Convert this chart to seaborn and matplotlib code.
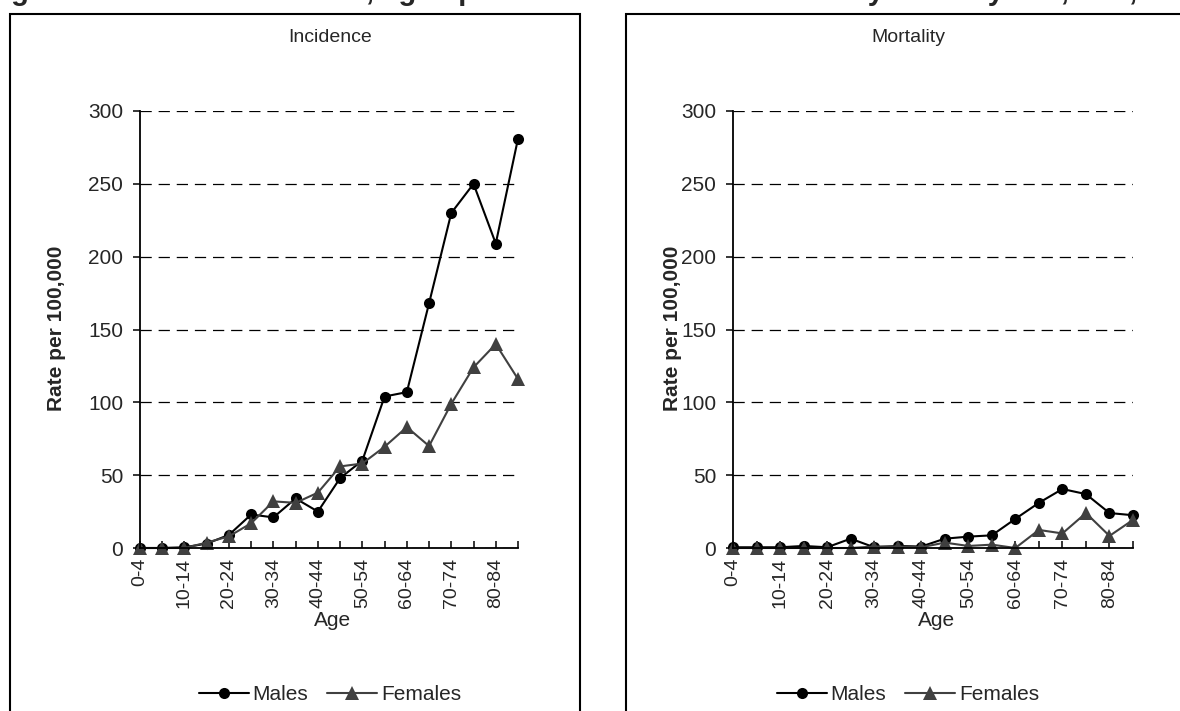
import numpy as np
import pandas as pd
import matplotlib
matplotlib.use("Agg")
import matplotlib.pyplot as plt
import seaborn as sns
from matplotlib.patches import Rectangle
from matplotlib.lines import Line2D

# Five-year age bands
age_groups = ["0-4", "5-9", "10-14", "15-19", "20-24", "25-29", "30-34", "35-39",
              "40-44", "45-49", "50-54", "55-59", "60-64", "65-69", "70-74",
              "75-79", "80-84", "85+"]

# Age-specific rates per 100,000
incidence_males = [0, 0, 0.5, 3, 9, 23, 21, 34, 25, 48, 60, 104, 107, 168, 230, 250, 209, 281]
incidence_females = [0, 0, 0, 3.7, 8, 17, 32, 31, 38, 56, 58, 69.5, 83, 70, 99, 124, 140, 116]
mortality_males = [0.5, 0.5, 0.5, 1.4, 0.5, 6.4, 0.5, 1.4, 1, 6.4, 7.8, 8.7, 20, 31, 40.5, 37, 24, 22.5]
mortality_females = [0, 0, 0, 0, 0, 0, 1, 1, 0.5, 3.7, 1.4, 2.3, 0, 12.4, 10, 24, 8.3, 19.3]

sexes = ["Males", "Females"]
y_ticks = [0, 50, 100, 150, 200, 250, 300]

sns.set_theme(style="white")
plt.rcParams["font.family"] = ["Liberation Sans", "DejaVu Sans"]

W, H = 1180, 711
fig = plt.figure(figsize=(W / 100, H / 100), dpi=100)
fig.patch.set_facecolor("white")


def fx(px):
    return px / W


def fy(py):
    return 1 - py / H


palette = {"Males": "#000000", "Females": "#404040"}
markers = {"Males": "o", "Females": "^"}
msize = {"Males": 8, "Females": 10}

panels = [
    dict(title="Incidence", males=incidence_males, females=incidence_females,
         box=(10, 580), ax=(140, 518), cx=330, ylab_x=56),
    dict(title="Mortality", males=mortality_males, females=mortality_females,
         box=(626, 1200), ax=(733, 1133), cx=908, ylab_x=672),
]

top_px, base_px = 111, 548
fs = 15

for p in panels:
    # chart-area frame
    bl, br = p["box"]
    fig.patches.append(Rectangle((fx(bl), fy(730)), fx(br - bl), (730 - 14) / H,
                                 transform=fig.transFigure, fill=False,
                                 edgecolor="black", linewidth=1.5))

    al, ar = p["ax"]
    ax = fig.add_axes([fx(al), fy(base_px), fx(ar - al), (base_px - top_px) / H])
    ax.set_facecolor("none")

    pos = np.arange(len(age_groups))
    df = pd.DataFrame({
        "pos": np.concatenate([pos, pos]),
        "Rate": np.concatenate([p["males"], p["females"]]),
        "Sex": ["Males"] * len(pos) + ["Females"] * len(pos),
    })
    for sex in sexes:
        sns.lineplot(data=df[df["Sex"] == sex], x="pos", y="Rate",
                     color=palette[sex], marker=markers[sex],
                     markersize=msize[sex], markeredgewidth=0,
                     linewidth=1.5, ax=ax, legend=False)
    for ln in ax.lines:
        ln.set_clip_on(False)

    ax.set_xlim(0, len(age_groups) - 1)
    ax.set_ylim(0, 300)
    ax.set_yticks(y_ticks)
    ax.set_xticks(pos)
    ax.set_xticklabels([a if i % 2 == 0 else "" for i, a in enumerate(age_groups)],
                       rotation=90)
    ax.set_xlabel("")
    ax.set_ylabel("")

    for s in ["top", "right"]:
        ax.spines[s].set_visible(False)
    for s in ["left", "bottom"]:
        ax.spines[s].set_color("black")
        ax.spines[s].set_linewidth(1.3)

    ax.yaxis.grid(True, linestyle=(0, (9, 5.5)), color="black", linewidth=0.9)
    ax.xaxis.grid(False)
    ax.set_axisbelow(True)

    ax.tick_params(axis="x", direction="in", length=5, width=1.1, color="black",
                   labelsize=14, pad=7, bottom=True)
    ax.tick_params(axis="y", direction="out", length=5, width=1.1, color="black",
                   labelsize=fs, pad=7, left=True)

    fig.text(fx(p["cx"]), fy(38), p["title"], ha="center", va="center", fontsize=14)
    fig.text(fx(p["ylab_x"]), fy(328), "Rate per 100,000", rotation=90,
             ha="center", va="center", fontsize=fs, fontweight="bold")
    fig.text(fx((al + ar) / 2 + 4), fy(620), "Age", ha="center", va="center", fontsize=fs)

    handles = [Line2D([0], [0], color=palette[s], marker=markers[s],
                      markersize=msize[s], markeredgewidth=0, linewidth=1.5)
               for s in sexes]
    fig.legend(handles, sexes, loc="center", bbox_to_anchor=(fx(p["cx"]), fy(695)),
               ncol=2, frameon=False, fontsize=fs, handlelength=2.4,
               handletextpad=0.2, columnspacing=0.9)

fig.text(fx(-15), fy(-0.5),
         "Figure 3.10: Bladder cancer, age-specific incidence and mortality rates by sex, ROI, 1994-2001",
         ha="left", va="baseline", fontsize=21, fontweight="bold")

fig.savefig("out.png", dpi=100, facecolor="white")
